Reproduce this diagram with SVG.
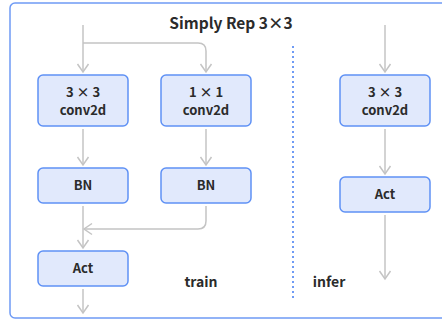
<svg xmlns="http://www.w3.org/2000/svg" width="442" height="320" viewBox="0 0 442 320">
<defs>
<style>
.frame{fill:#fff;stroke:#6f9bf5;stroke-width:1.5}
.node{fill:#e1e9fc;stroke:#5f91f5;stroke-width:1.5}
.t{font-family:"Noto Sans CJK SC","Noto Sans",sans-serif;font-weight:600;fill:#2b2b2b;text-anchor:middle}
.n{font-size:13px}
.c{fill:none;stroke:#c4c4c4;stroke-width:1.5}
.div{stroke:#6f9bf5;stroke-width:2;stroke-dasharray:2 3}
</style>
<marker id="ar" viewBox="0 0 14 14" refX="12" refY="7" markerWidth="14" markerHeight="14" markerUnits="userSpaceOnUse" orient="auto">
<path d="M4,1.5 L12,7 L4,12.5" fill="none" stroke="#c4c4c4" stroke-width="1.5"/>
</marker>
</defs>
<rect class="frame" x="10" y="3" width="440" height="315" rx="5"/>
<text class="t" x="231" y="29" font-size="15.5">Simply Rep 3×3</text>
<line class="div" x1="293" y1="46" x2="293" y2="298"/>
<g id="connectors">
<path class="c" d="M83,25 V72" marker-end="url(#ar)"/>
<path class="c" d="M83,43 H198 Q206,43 206,51 V72" marker-end="url(#ar)"/>
<path class="c" d="M83,129 V165" marker-end="url(#ar)"/>
<path class="c" d="M206,129 V165" marker-end="url(#ar)"/>
<path class="c" d="M83,206 V248" marker-end="url(#ar)"/>
<path class="c" d="M206,206 V221 Q206,229 198,229 H84" marker-end="url(#ar)"/>
<path class="c" d="M83,289 V313" marker-end="url(#ar)"/>
<path class="c" d="M385,25 V72" marker-end="url(#ar)"/>
<path class="c" d="M385,129 V174" marker-end="url(#ar)"/>
<path class="c" d="M385,215 V279" marker-end="url(#ar)"/>
</g>
<g id="conv3x3">
<rect class="node" x="38" y="75" width="90" height="51" rx="5"/>
<text class="t n" x="83" y="97">3 × 3</text>
<text class="t n" x="83" y="115">conv2d</text>
</g>
<g id="conv1x1">
<rect class="node" x="161" y="75" width="90" height="51" rx="5"/>
<text class="t n" x="206" y="97">1 × 1</text>
<text class="t n" x="206" y="115">conv2d</text>
</g>
<g id="bn1">
<rect class="node" x="38" y="168" width="90" height="35" rx="5"/>
<text class="t n" x="83" y="190">BN</text>
</g>
<g id="bn2">
<rect class="node" x="161" y="168" width="90" height="35" rx="5"/>
<text class="t n" x="206" y="190">BN</text>
</g>
<g id="act1">
<rect class="node" x="38" y="251" width="90" height="35" rx="5"/>
<text class="t n" x="83" y="273">Act</text>
</g>
<g id="conv3x3infer">
<rect class="node" x="340" y="75" width="90" height="51" rx="5"/>
<text class="t n" x="385" y="97">3 × 3</text>
<text class="t n" x="385" y="115">conv2d</text>
</g>
<g id="act2">
<rect class="node" x="340" y="177" width="90" height="35" rx="5"/>
<text class="t n" x="385" y="199">Act</text>
</g>
<text class="t" x="201" y="287" font-size="14">train</text>
<text class="t" x="329" y="287" font-size="14">infer</text>
</svg>
